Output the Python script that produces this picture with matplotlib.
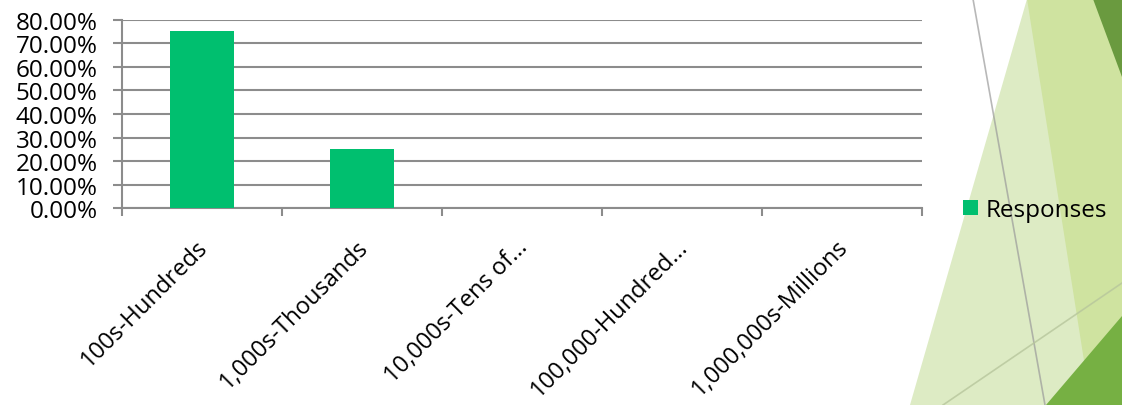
import matplotlib
matplotlib.use("Agg")
import matplotlib.pyplot as plt
import matplotlib.transforms as mtransforms
from matplotlib.patches import Polygon
from matplotlib.lines import Line2D
from matplotlib.ticker import FuncFormatter, MultipleLocator

categories = ["100s-Hundreds", "1,000s-Thousands", "10,000s-Tens of...",
              "100,000-Hundred...", "1,000,000s-Millions"]
responses = [75.0, 25.0, 0.0, 0.0, 0.0]
series_name = "Responses"

plt.rcParams['font.family'] = ['Open Sans', 'DejaVu Sans']

W, H = 1122, 406
fig = plt.figure(figsize=(W / 100, H / 100), dpi=100)
fig.patch.set_facecolor('white')

def px(x, y):
    return (x / W, (H - y) / H)

# background theme decorations (figure coordinates)
def poly(pts, color, z=0, alpha=1.0):
    p = Polygon([px(*q) for q in pts], closed=True, transform=fig.transFigure,
                facecolor=color, edgecolor='none', zorder=z, alpha=alpha)
    fig.patches.append(p)

poly([(1027, 0), (910, 406), (1122, 406), (1122, 0)], '#DDEBC4', z=0)
poly([(1027, 0), (1122, 0), (1122, 406), (1091, 406)], '#CFE3A0', z=0)
poly([(1093, 0), (1122, 0), (1122, 78)], '#6A9A3F', z=0)
poly([(1046, 406), (1122, 317), (1122, 406)], '#76B043', z=0)
fig.lines.append(Line2D([973 / W, 1045 / W], [1, 0], transform=fig.transFigure,
                        color='#9A9A9A', alpha=0.7, lw=1.2, zorder=1))
fig.lines.append(Line2D([943 / W, 1122 / W], [0, (H - 284) / H], transform=fig.transFigure,
                        color='#B7C69C', alpha=0.8, lw=1.2, zorder=1))

left, right, top, bottom = 122, 922, 20.7, 209.3
ax = fig.add_axes([left / W, (H - bottom) / H, (right - left) / W, (bottom - top) / H])
ax.set_facecolor('none')

x = list(range(len(categories)))
ax.bar(x, responses, width=0.4, color='#00BF6F', label=series_name, zorder=3)

ax.set_xlim(-0.5, len(categories) - 0.5)
ax.set_ylim(0, 80)
ax.yaxis.set_major_locator(MultipleLocator(10))
ax.yaxis.set_major_formatter(FuncFormatter(lambda v, p: f"{v:.2f}%"))
ax.grid(axis='y', color='#8C8C8C', lw=1.5, zorder=0)
ax.set_axisbelow(True)

for s in ['top', 'right']:
    ax.spines[s].set_visible(False)
for s in ['left', 'bottom']:
    ax.spines[s].set_color('#8C8C8C')
    ax.spines[s].set_linewidth(1.5)

ax.tick_params(axis='y', direction='out', length=6.5, width=1.5, color='#8C8C8C',
               pad=11, labelsize=17.5, labelcolor='black')

ax.set_xticks(x)
ax.set_xticks([i - 0.5 for i in range(len(categories) + 1)], minor=True)
ax.set_xticklabels(categories, rotation=45, ha='right', va='center',
                   rotation_mode='anchor', fontsize=17)
ax.tick_params(axis='x', which='major', length=0, pad=25)
ax.tick_params(axis='x', which='minor', direction='out', length=6, width=1.5,
               color='#8C8C8C')
offset = mtransforms.ScaledTranslation(2.5 / 100, 0, fig.dpi_scale_trans)
for lbl in ax.get_xticklabels():
    lbl.set_transform(lbl.get_transform() + offset)

leg = fig.legend(loc='center left', bbox_to_anchor=px(963, 211), frameon=False,
                 fontsize=17.5, handlelength=0.62, handleheight=0.62,
                 handletextpad=0.3, borderaxespad=0, borderpad=0)

fig.savefig('out.png', dpi=100)
